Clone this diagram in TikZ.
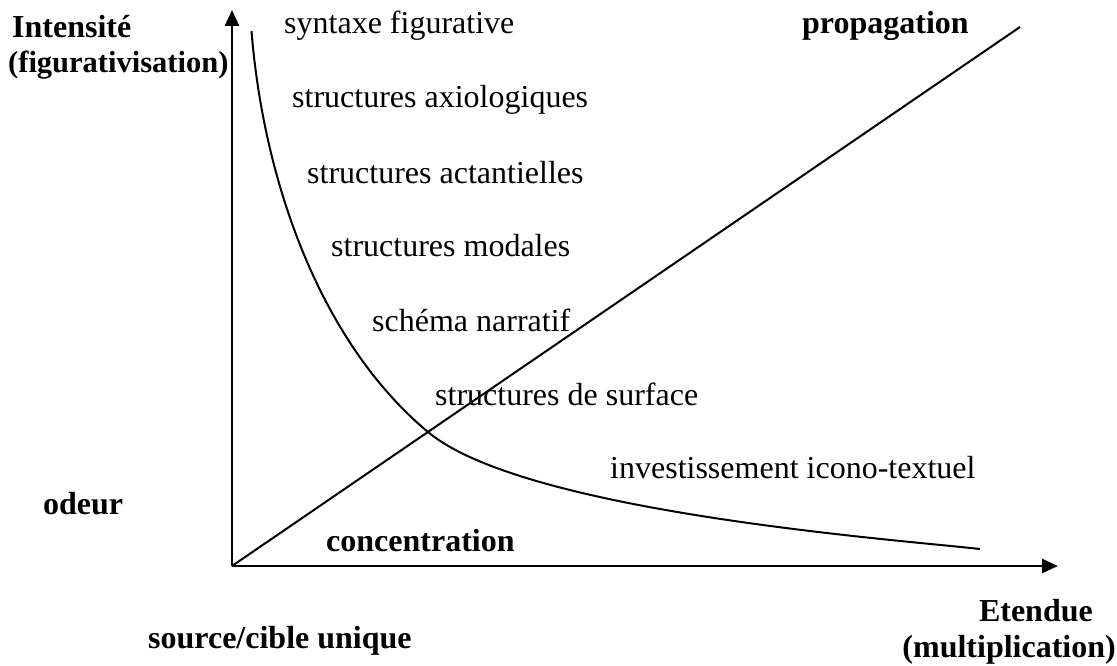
\documentclass[tikz,border=0pt]{standalone}
\usepackage{fontspec}
\setmainfont{Liberation Serif}
\usetikzlibrary{arrows.meta}
\begin{document}
\begin{tikzpicture}[x=1pt,y=-1pt,
  lbl/.style={anchor=west,inner sep=0pt,font=\fontsize{32}{38}\selectfont},
  blbl/.style={lbl,font=\fontsize{32}{38}\selectfont\bfseries},
  axis/.style={line width=2.6pt,-{Triangle[length=16pt,width=14pt]}},
  thin/.style={line width=2pt}]
\useasboundingbox (0,0) rectangle (1117,666);
\coordinate (O) at (232,566);
\coordinate (Ytip) at (232,10);
\coordinate (Xtip) at (1058,566);
\coordinate (Dend) at (1020,27);
\coordinate (C0) at (251.5,31);
\coordinate (Cm) at (428,432);
\coordinate (C1) at (980,549);
\draw[axis] (O) -- (Ytip);
\draw[axis] (O) -- (Xtip);
\draw[thin] (O) -- (Dend);
\draw[thin] (C0) .. controls (263.5,181) and (320,342) .. (Cm)
  .. controls (524,512) and (890,539) .. (C1);
\node[blbl,anchor=base west] (int) at (12,38) {Intensité};
\node[blbl,anchor=base west,font=\fontsize{30.5}{36}\selectfont\bfseries] (fig) at (8,73) {(figurativisation)};
\node[lbl] (syn) at (284,26) {syntaxe figurative};
\node[blbl] (prop) at (802,26) {propagation};
\node[lbl] (axio) at (292,100) {structures axiologiques};
\node[lbl] (act) at (307,173) {structures actantielles};
\node[lbl] (mod) at (331,246) {structures modales};
\node[lbl] (sch) at (372,320) {schéma narratif};
\node[lbl] (surf) at (435,394) {structures de surface};
\node[lbl] (inv) at (610,468) {investissement icono-textuel};
\node[blbl] (od) at (43,504) {odeur};
\node[blbl] (conc) at (326,541) {concentration};
\node[blbl] (src) at (148,641) {source/cible unique};
\node[blbl,anchor=east] (et) at (1093,611) {Etendue};
\node[blbl,anchor=east] (mult) at (1116,650) {(multiplication)};
\end{tikzpicture}
\end{document}
